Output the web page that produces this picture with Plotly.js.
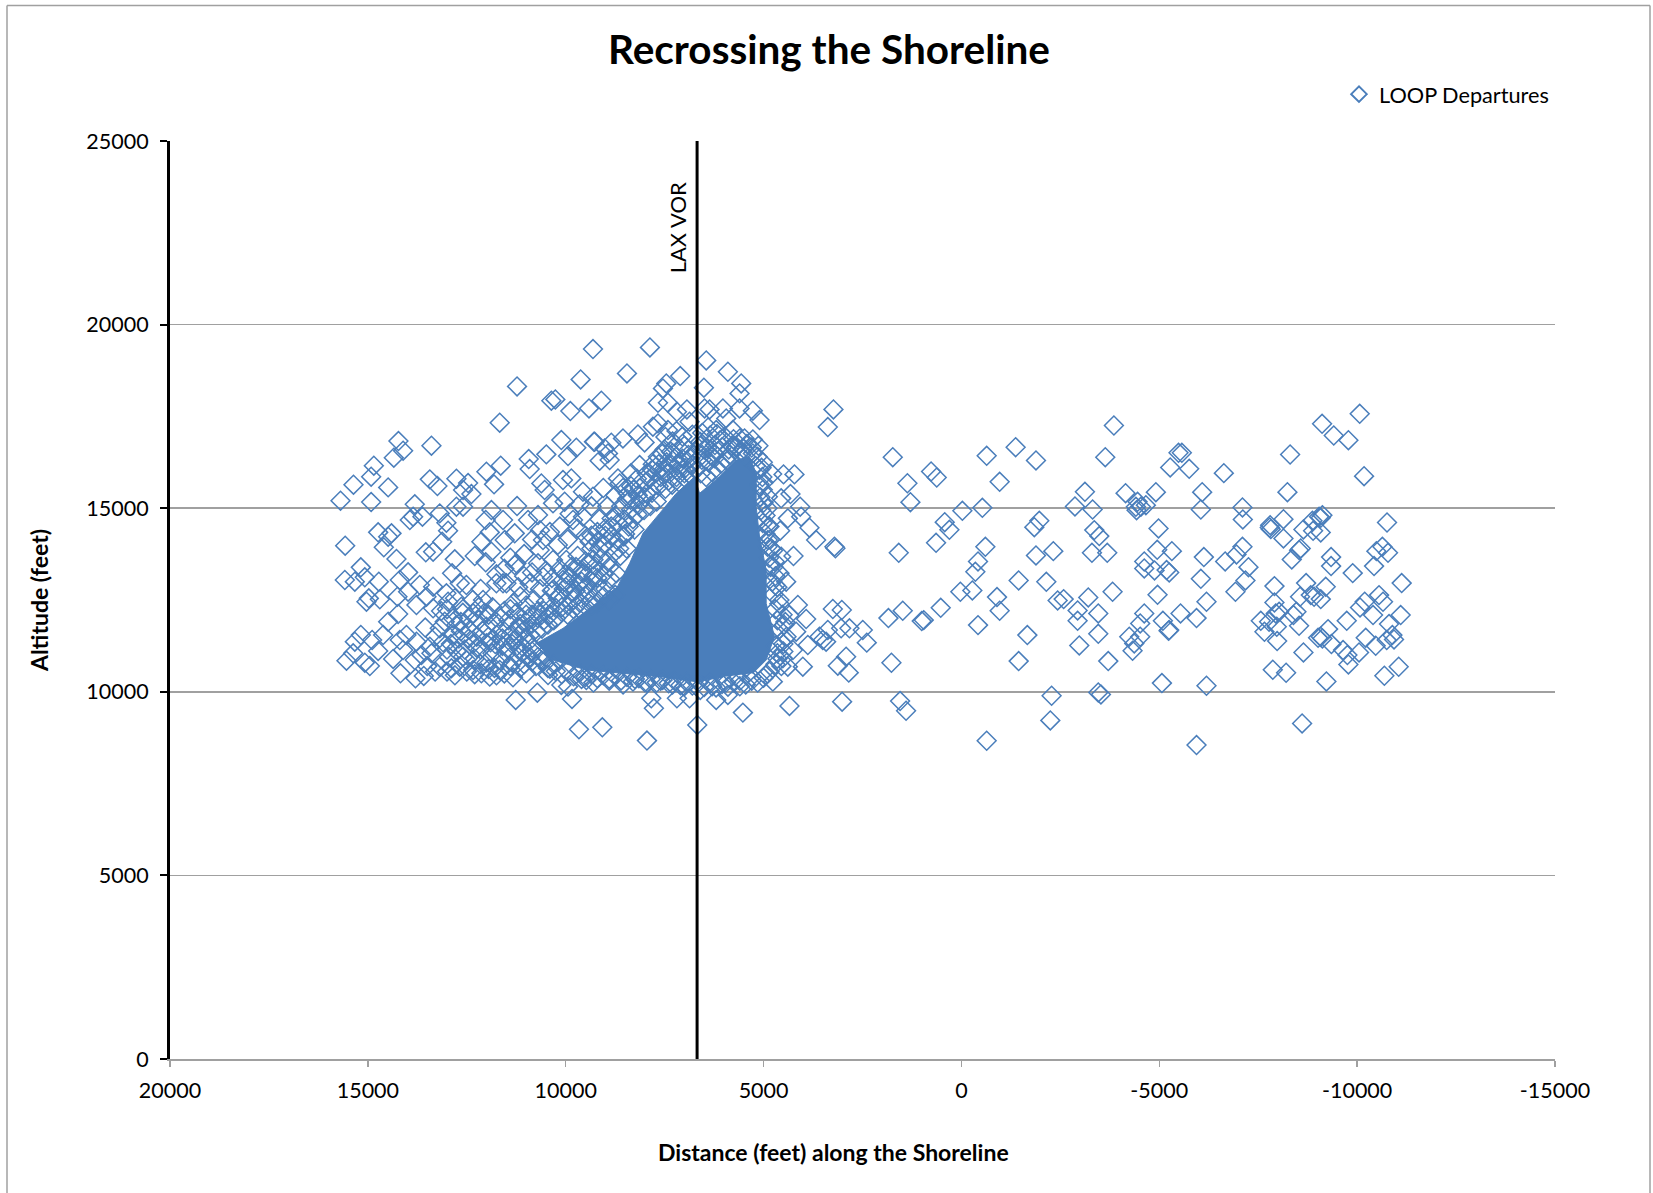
<!DOCTYPE html>
<html><head><meta charset="utf-8">
<script src="https://cdn.plot.ly/plotly-3.0.1.min.js"></script>
<style>html,body{margin:0;padding:0;background:#fff}#c{width:1653px;height:1193px}</style>
</head><body><div id="c"></div>
<script>
// Values [distance ft, altitude ft].
const eastPoints = [[1735,16390],[1365,15680],[1289,15165],[767,16000],[624,15836],[-638,16426],[-966,15719],[-1370,16662],[-1884,16300],[-3853,17252],[-3635,16390],[-5276,16110],[-5486,16508],[-24,14929],[-529,15010],[422,14620],[304,14412],[641,14058],[1584,13786],[-605,13949],[-419,13550],[-352,13268],[-1842,14484],[-1968,14657],[-2869,15047],[-3121,15446],[-3315,14965],[-4148,15410],[-4914,15437],[-4451,15174],[-4409,15038],[-4426,14947],[-4535,15038],[-4661,15083],[-4981,14448],[-3357,14403],[-3483,14240],[-3298,13786],[-3685,13786],[-4948,13867],[-5318,13831],[-4620,13550],[-4620,13359],[-4880,13305],[-5184,13314],[-5251,13250],[-1884,13713],[-2322,13831],[-1446,13032],[-2145,12996],[27,12724],[-276,12760],[-899,12579],[-966,12207],[523,12288],[1003,11925],[953,11952],[1483,12207],[1845,12007],[-419,11816],[-2431,12488],[-2583,12524],[-2936,12216],[-2936,11934],[-3205,12570],[-3458,12134],[-3820,12724],[-4956,12642],[-4620,12134],[-5091,11934],[-5234,11662],[-5250,11680],[-4518,11862],[-4518,11499],[-4241,11499],[-4367,11317],[-4325,11118],[-3458,11580],[-2978,11263],[-1665,11544],[-1446,10836],[1769,10791],[-3710,10836],[-5066,10237],[-2279,9892],[-3458,9983],[-3525,9929],[-2246,9221],[-638,8667],[1550,9747],[1399,9484]];
const farEastPoints = [[-5570,16508],[-5756,16073],[-6631,15955],[-6084,15437],[-6050,14965],[-7102,15020],[-7111,14693],[-8306,16463],[-8238,15437],[-9114,17298],[-9409,16980],[-9779,16853],[-10065,17570],[-10175,15873],[-8138,14702],[-7801,14539],[-7792,14475],[-7818,14430],[-8138,14176],[-8643,14421],[-8870,14657],[-8887,14385],[-9080,14339],[-9038,14766],[-9122,14811],[-9080,14739],[-10755,14611],[-8575,13904],[-8533,13858],[-8348,13604],[-7102,13949],[-6951,13740],[-6665,13550],[-6126,13668],[-6050,13078],[-7254,13395],[-7178,13032],[-6925,12724],[-6193,12452],[-5941,12007],[-5537,12134],[-9341,13668],[-9341,13423],[-9888,13232],[-10427,13423],[-10486,13831],[-10638,13949],[-10780,13786],[-11125,12960],[-7910,12878],[-8710,12960],[-9206,12860],[-8558,12588],[-8828,12633],[-8912,12588],[-9080,12524],[-7910,12433],[-8028,12179],[-7944,12134],[-8466,12179],[-8390,12089],[-7565,11934],[-7775,11907],[-7658,11635],[-7969,11771],[-8533,11798],[-7978,11381],[-8643,11072],[-7868,10600],[-8205,10519],[-9223,10282],[-8609,9139],[-5941,8549],[-6193,10165],[-9013,11471],[-9080,11499],[-9265,11707],[-9350,11299],[-9122,11453],[-9737,11934],[-9644,11136],[-9754,11000],[-10048,11072],[-9779,10746],[-10073,12297],[-10191,12452],[-10402,12089],[-10553,12633],[-10654,12452],[-11100,12089],[-10806,11844],[-10217,11471],[-10469,11254],[-10747,11408],[-10890,11544],[-10932,11426],[-10688,10437],[-11050,10682]];
const corePoints = [[7872,19379],[8452,18671],[9311,19333],[9100,17927],[7106,18598],[7459,18399],[7543,18263],[7669,17872],[7417,17872],[6449,19025],[5902,18716],[5565,18399],[5607,18127],[6508,18281],[5607,17718],[5271,17655],[5102,17400],[3234,17691],[3377,17210],[6937,17691],[7190,17627],[6870,17355],[7796,17219],[7670,17310],[7417,17128],[7200,17100],[6491,17718],[6365,17691],[6028,17718],[5944,17446],[6197,17128],[5776,17128],[8175,17010],[8006,16792],[8553,16901],[8848,16783],[9269,16811],[9016,16629],[8932,16493],[8890,16312],[9142,16293],[7669,16402],[8132,16175],[8680,15812],[8637,15676],[5271,16874],[5481,16901],[5271,16493],[4783,15930],[4496,15921],[4219,15921],[5102,15585],[4892,15313],[4555,15268],[4320,15386],[4075,15041],[4050,14769],[4387,14723],[3840,14469],[3672,14133],[4581,14388],[3209,13952],[3184,13907],[4244,13698],[4597,13226],[4429,13000],[4555,13680],[4892,14133],[4134,12364],[4345,12092],[3924,11983],[3250,12255],[3023,12228],[3377,11683],[3503,11411],[3587,11502],[3419,11366],[3040,11729],[2830,11729],[2493,11683],[2392,11339],[2914,10957],[3124,10712],[2847,10522],[4008,10685],[3882,11275],[4176,11638],[4260,11139],[4387,10685],[4513,10912],[4766,10277],[3015,9732],[4345,9614],[5523,9433],[6197,9778],[5902,9914],[6676,9097],[7771,9551],[7838,9823],[7190,9823],[6870,9823],[9075,9033],[7947,8671],
[6800,17000],[6600,16800],[6400,17200],[6100,16850],[5800,16700],[5600,16900],[7000,16700],[7300,16500],[7500,16600],[7800,16200],[7950,15950],[8200,15800],[8350,15600],[8450,15250],[8600,15050],[8750,14800],[8850,14500],[9000,14250],[9150,13900],[9300,13600],[9200,13100],[9000,12800],[8900,13400],[8650,13900],[8500,14300],[8300,14700],[8150,15100],[7950,15400],[7700,15650],[7450,15950],[7150,16200],[6850,16350],[6550,16450],[6250,16500],[5950,16350],[5700,16650],[5450,16400],[5050,16100],[5000,15700],[4900,15000],[4850,14500],[4800,13900],[4750,13400],[4700,12900],[4600,12400],[4450,11900],[4500,11300],[4650,10900],[4950,10450],[5300,10300],[5600,10150],[5950,10250],[6300,10150],[6600,10050],[7000,10150],[7300,10200],[7600,10300],[7950,10250],[8250,10350],[8550,10200],[8900,10300],[9300,10250],[9600,10350]];
const coreFringePoints = [[6550,17050],[6350,16980],[6180,17020],[5980,16950],[5760,16880],[7050,16950],[7300,16820],[7480,16940],[6600,16700],[6420,16640],[6230,16720],[6050,16660],[5880,16600],[5690,16680],[5500,16620],[6900,16580],[7120,16620],[7340,16540],[7560,16480],[6560,16320],[6390,16250],[6240,16360],[6080,16210],[5930,16290],[6800,16180],[6980,16090],[7160,16000],[7320,16180],[7520,16060],[7700,15980],[7880,15800],[6590,15950],[6450,15850],[6300,15980],[6150,16050],[6950,15780],[7130,15700],[7310,15640],[7480,15530],[7650,15600],[7820,15420],[8000,15300],[8180,15350],[8360,15230],[7700,15180],[7860,15060],[8020,14950],[8190,14830],[8350,14960],[8520,14700],[8680,14600],[8840,14720],[9000,14450],[8410,14500],[8260,14420],[8530,14230],[8690,14110],[8850,14240],[9020,14000],[9190,14100],[9350,14250],[8460,13900],[8620,13700],[8780,13780],[8940,13550],[9100,13640],[9260,13420],[9420,13520],[9580,13300],[9740,13400],[9900,13150],[8720,13230],[8880,13080],[9040,13200],[9200,12950],[9360,13030],[9520,12830],[9680,12950],[9840,12700],[10000,12850],[10160,12620],[10320,12780],[8750,12640],[8900,12500],[9050,12600],[9200,12420],[9350,12510],[9500,12330],[9650,12430],[9800,12250],[9950,12350],[10100,12170],[10250,12280],[10400,12100],[10550,12200],[10700,12000],[10850,12100],[11000,11900],[10300,11950],[10450,11830],[10600,11720],[10750,11620],[10900,11550],[11050,11680],[11200,11520],[11350,11300],[10950,11350],[11100,11230],[10850,11100],[11000,10980],[10700,10950],[10550,10830],[10850,10830],[10400,10630],[10250,10560],[10100,10480],[9950,10560],[9800,10420],[9650,10520],[9500,10400],[9350,10480],[9200,10370],[9050,10450],[8900,10350],[8750,10430],[8600,10310],[8450,10400],[8300,10280],[8150,10370],[8000,10260],[7850,10350],[7700,10250],[7550,10320],[7400,10230],[7250,10300],[7100,10180],[6950,10270],[6800,10170],[6650,10250],[6500,10130],[6350,10230],[6200,10120],[6050,10210],[5900,10140],[5750,10260],[5600,10300],[5450,10200],[5300,10410],[5150,10250],[5000,10380],[4850,10550],[4700,10750],[4550,10700],[4650,11050],[4500,11100],[4700,11250],[4550,11350],[4420,11500],[4600,11700],[4480,11820],[4650,11950],[4520,12100],[4700,12250],[4600,12500],[4750,12650],[4650,12850],[4780,13000],[4700,13150],[4820,13400],[4720,13550],[4860,13650],[4760,13850],[4900,13950],[4830,14150],[4950,14300],[4880,14500],[5020,14600],[4950,14800],[5060,14950],[5000,15150],[5080,15300],[5020,15500],[5100,15650],[5030,15850],[5100,16050],[5020,16250],[5200,16150],[5150,16400],[5300,16650],[5130,16700],[5420,16750],[5550,16550],[7250,16350],[7450,16250],[7650,16200],[7820,16050],[7980,15700],[8130,15550],[8280,15500],[8430,15400],[7600,15850],[7400,15750],[7200,15850],[7000,15950],[6850,15900],[6700,16050],[7050,16350],[6900,16450],[6700,16550],[6500,16600],[6300,16400],[6150,16550],[5850,16450]];
const westPoints = [[9623,18508],[11230,18317],[11668,17328],[10363,17927],[10262,17963],[9883,17646],[9412,17718],[10111,16856],[9732,16647],[9942,16420],[9286,16811],[10490,16466],[10935,16339],[10910,16066],[11643,16157],[12004,15994],[11811,15649],[12762,15803],[12467,15685],[12594,15495],[12383,15386],[13393,16702],[13435,15785],[13242,15604],[14227,16829],[14109,16566],[14344,16375],[14849,16157],[14917,15858],[14487,15567],[15363,15640],[14917,15168],[15691,15204],[13814,15105],[13856,14769],[13940,14678],[13620,14769],[13183,14859],[13015,14605],[12973,14388],[12762,15041],[12594,15041],[11878,14950],[12022,14678],[11584,14678],[11230,15059],[10952,14678],[10700,14814],[14740,14342],[14403,14315],[14487,14224],[14597,13934],[15573,13979],[13121,14088],[13536,13798],[13351,13816],[12804,13607],[12871,13226],[11920,14342],[12131,14088],[12299,13698],[11878,13816],[12022,13526],[11541,14133],[11289,14315],[14277,13616],[13983,13253],[14193,13045],[15178,13389],[15582,13045],[15329,13000],[15077,13117],[14723,13000],[14976,12545],[15035,12454],[14698,12518],[14252,12591],[13983,12727],[13772,12364],[13688,12908],[13351,12863],[13519,12591],[13015,12682],[12973,12454],[12510,12908],[12678,12954],[14235,12119],[14487,11910],[13351,12273],[12636,12319],[14614,11547],[15178,11547],[14892,11411],[15329,11366],[14740,11112],[15371,11048],[15540,10848],[15077,10794],[14950,10703],[14361,10894],[14176,10504],[13797,10367],[13587,10431],[14193,11411],[14025,11547],[14109,11139],[13772,11366],[13814,10866],[13646,11003],[13393,11048],[13183,11729],[13057,11910],[12762,11819],[13435,11230],[13183,10685],[12888,10640],[12594,10957],[12510,10866],[12678,10685],[12341,10594],[12131,10504],[11920,10413],[11668,10594],[11331,10395],[10995,10504],[10447,10458],[10111,10187],[9942,10141],[9479,10322],[12341,12137],[12089,12500],[11752,12954],[11584,12954],[12004,11774],[12425,11683],[12004,11320],[11668,12046],[11331,12409],[11247,13498],[10910,12954],[10658,13861],[10574,14133],[10321,13589],[10069,13045],[10574,13135],[9985,13589],[9564,13226],[9395,14088],[9816,14678],[9564,14769],[10069,15767],[9858,15812],[10616,15676],[10532,15495],[10321,15132],[10027,15177],[9564,15450],[9311,15313],[11289,13453],[11499,12954],[11264,9778],[10717,9977],[9841,9805],[9665,8979]];
const westDensePoints = [[11950,12100],[11800,11850],[11600,11700],[11450,11950],[11300,11650],[11150,11850],[11000,12100],[10850,11850],[10700,12200],[10550,11950],[10400,12250],[10250,12000],[10100,12300],[9950,12100],[9800,12500],[9650,12250],[9500,12600],[9350,12350],[9200,12700],[11950,11500],[11780,11300],[11600,11450],[11450,11200],[11300,11400],[11150,11150],[11000,11450],[10850,11200],[11850,11050],[11650,10850],[11500,11050],[11350,10800],[11200,10950],[11050,10750],[10900,10950],[10750,10700],[10600,10850],[10450,10650],[10300,10750],[12200,11950],[12250,11500],[12150,11150],[12300,10900],[12000,10800],[11800,10650],[11150,12600],[11000,12350],[10800,12500],[10650,12800],[10500,12450],[10350,12750],[10200,12550],[10050,12800],[9900,12950],[9750,12750],[9600,13000],[9450,12900],[9300,13150],[11200,12850],[11050,13150],[10850,13250],[10700,13500],[10500,13300],[10350,13100],[10150,13350],[10000,13200],[9850,13400],[9700,13700],[9500,13550],[9350,13900],[9200,14350],[9500,14250],[9700,14450],[9950,14150],[10200,14000],[10400,14350],[10150,14500],[9900,14850],[9650,15100],[9350,15050],[9150,14700],[8950,15050],[8750,15350],[8550,15550],[8350,15950],[9050,15550],[10650,14400],[10850,14150],[11050,13750],[11400,13650],[11550,13350],[11750,13200],[12150,12800],[12350,12500],[12600,12150],[12800,12550],[13150,12200],[13300,11500],[13550,11750],[12900,11300],[12700,11450],[12550,11150],[12750,11100],[12950,10950],[12350,11300],[13100,11350],[11200,11750],[11400,11550],[11600,11250],[11750,11550],[11900,11350],[12100,11650],[12250,11200],[12450,11450],[12650,11650],[12850,11550],[13000,11150],[11150,10650],[11400,10700],[11550,10500],[11750,10450],[11950,10620],[12150,10750],[12300,10480],[12500,10550],[12800,10450],[13000,10550],[13300,10550],[13500,10700],[11250,12150],[11400,12250],[11550,12200],[11850,12300],[12050,12150],[12200,12300],[12450,12000],[12650,11900],[12850,12000],[13000,12250]];

// Outline of the area where the markers merge into solid colour.
const solidCoreDistance = [5271,4934,4724,4934,4934,5102,5187,5186,5354,5691,6112,6617,6743,7206,7627,8048,8384,8700,9300,10068,10741,10320,9479,8637,7627,6702,6028];
const solidCoreAltitude = [10503,10866,11502,12409,13317,14224,15041,15948,16402,16311,15857,15404,15858,15404,14859,14315,13500,12850,12350,11728,11320,10866,10594,10503,10412,10277,10400];

const xTickValues = [20000,15000,10000,5000,0,-5000,-10000,-15000];
const xTickLabels = ['20000','15000','10000','5000','0','-5000','-10000','-15000'];
const yTickValues = [0,5000,10000,15000,20000,25000];
const laxVorDistance = 6680;

const allPoints = [...eastPoints,...farEastPoints,...corePoints,...coreFringePoints,...westPoints,...westDensePoints];
const BLUE = '#4a7ebb';
const traces = [
 {x:solidCoreDistance,y:solidCoreAltitude,mode:'lines',fill:'toself',fillcolor:BLUE,line:{color:BLUE,width:1},showlegend:false,hoverinfo:'skip'},
 {x:allPoints.map(p=>p[0]),y:allPoints.map(p=>p[1]),mode:'markers',type:'scatter',name:'LOOP Departures',
  marker:{symbol:'diamond-open',size:14.5,color:BLUE,line:{color:BLUE,width:1.5}}}
];
const L=170,R=1555,T=140.5,B=1059;
const px=v=>(v-L)/(R-L), py=v=>(B-v)/(B-T);
const frame={type:'line',xref:'paper',yref:'paper',line:{color:'#a0a0a0',width:1.5}};
const layout={
 width:1653,height:1193,margin:{l:L,r:1653-R,t:T,b:1193-B,pad:0},
 paper_bgcolor:'#fff',plot_bgcolor:'#fff',
 font:{family:'Lato, Carlito, sans-serif',size:21.5,color:'#000'},
 title:{text:'<b>Recrossing the Shoreline</b>',font:{size:40.5,color:'#000'},x:829/1653,xanchor:'center',y:1-50/1193,yanchor:'middle'},
 xaxis:{range:[20000,-15000],tickmode:'array',tickvals:xTickValues,ticktext:xTickLabels,showgrid:false,zeroline:false,
  showline:true,linecolor:'#a0a0a0',linewidth:1.5,ticks:'outside',ticklen:6,tickcolor:'#a0a0a0',tickwidth:1.5,ticklabelstandoff:6},
 yaxis:{range:[0,25000],tickmode:'array',tickvals:yTickValues,ticktext:yTickValues.map(String),showgrid:true,gridcolor:'#a0a0a0',gridwidth:1.5,zeroline:false,
  showline:true,linecolor:'#000',linewidth:3,ticks:'outside',ticklen:7,tickcolor:'#000',tickwidth:2,ticklabelstandoff:7,
  title:{text:'<b>Altitude (feet)</b>',font:{size:23},standoff:32}},
 legend:{x:px(1339),xanchor:'left',y:py(94),yanchor:'middle',bgcolor:'rgba(0,0,0,0)',font:{size:21.7},itemsizing:'constant'},
 shapes:[
  {type:'line',xref:'x',yref:'paper',x0:laxVorDistance,x1:laxVorDistance,y0:0,y1:1,line:{color:'#000',width:3},layer:'above'},
  {...frame,x0:px(7),x1:px(7),y0:py(5),y1:py(1193)},
  {...frame,x0:px(7),x1:px(1650),y0:py(5),y1:py(5)},
  {...frame,x0:px(1650),x1:px(1650),y0:py(5),y1:py(1193)}
 ],
 annotations:[
  {text:'LAX VOR',x:7170,y:22640,xref:'x',yref:'y',textangle:-90,showarrow:false,font:{size:22,color:'#000'}},
  {text:'<b>Distance (feet) along the Shoreline</b>',x:px(833),y:py(1152),xref:'paper',yref:'paper',xanchor:'center',yanchor:'middle',showarrow:false,font:{size:23,color:'#000'}}
 ]
};
Plotly.newPlot('c',traces,layout,{displayModeBar:false,staticPlot:true});
</script></body></html>
